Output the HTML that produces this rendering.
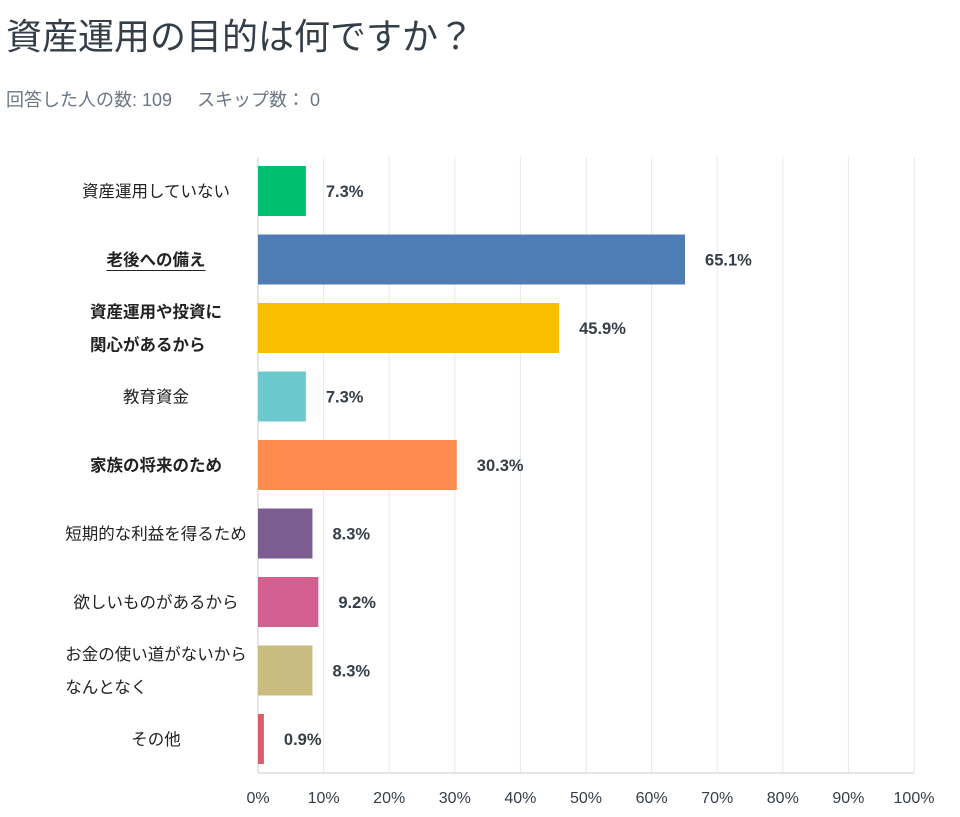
<!DOCTYPE html>
<html><head><meta charset="utf-8"><style>
body{margin:0;width:960px;height:817px;background:#fff;font-family:"Liberation Sans","Noto Sans CJK JP",sans-serif;position:relative;overflow:hidden}
#title{position:absolute;left:6px;top:8px;font-size:36px;color:#333e48;white-space:nowrap}
#sub{position:absolute;left:6px;top:86px;font-size:18px;color:#6b7785;white-space:nowrap}
svg text{font-family:"Liberation Sans","Noto Sans CJK JP",sans-serif}
</style></head><body>
<div id="title">資産運用の目的は何ですか？</div>
<div id="sub">回答した人の数: 109 &nbsp;&nbsp;&nbsp;&nbsp;スキップ数： 0</div>
<svg id="chart" width="960" height="817" style="position:absolute;left:0;top:0"></svg>
<script>
const categories=[["資産運用していない"],["老後への備え"],["資産運用や投資に","関心があるから"],["教育資金"],["家族の将来のため"],["短期的な利益を得るため"],["欲しいものがあるから"],["お金の使い道がないから","なんとなく"],["その他"]];
const values=[7.3,65.1,45.9,7.3,30.3,8.3,9.2,8.3,0.9];
const colors=["#00bf6f","#507cb6","#f9be00","#6bc8cd","#ff8b4f","#7d5c91","#d25f90","#c9bc7e","#e05b6a"];
const boldLabels=[false,true,true,false,true,false,false,false,false];
const ticks=[0,10,20,30,40,50,60,70,80,90,100];
const svg=document.getElementById('chart');
const NS='http://www.w3.org/2000/svg';
const x0=258,x1=914,yTop=157,yBot=773,rowH=68.5,barH=50;
const xs=v=>x0+(x1-x0)*v/100;
const yc=i=>191+i*rowH;
function mk(t,a){const e=document.createElementNS(NS,t);for(const k in a)e.setAttribute(k,a[k]);svg.appendChild(e);return e;}
ticks.forEach(t=>{
 const g=mk('line',{x1:xs(t),x2:xs(t),y1:yTop,y2:yBot,stroke:t===0?'#c8ccd0':'#e6e8ea','stroke-width':1});
 
 
 const l=mk('text',{x:xs(t),y:803,'text-anchor':'middle','font-size':16,fill:'#333e48'});
 l.textContent=t+'%';
 
 
});
const ax=mk('line',{x1:x0,x2:x1,y1:yBot,y2:yBot,stroke:'#c8ccd0','stroke-width':1});


values.forEach((v,i)=>{
 const r=mk('rect',{x:x0,y:yc(i)-barH/2,width:xs(v)-x0,height:barH,fill:colors[i]});
 
 
 const t=mk('text',{x:xs(v)+20,y:yc(i)+6,'font-size':16.5,'font-weight':'bold',fill:'#333e48'});
 t.textContent=v.toFixed(1)+'%';
 
 
 const lines=categories[i];
 const t2=mk('text',{'font-size':16.5,fill:'#222','font-weight':boldLabels[i]?'bold':'normal'});
 
 
 const n=lines.length;
 let w=0;
 lines.forEach((s,j)=>{const sp=document.createElementNS(NS,'tspan');sp.textContent=s;sp.setAttribute('x',0);sp.setAttribute('y',yc(i)+6+(j-(n-1)/2)*33);t2.appendChild(sp);w=Math.max(w,sp.getComputedTextLength());});
 [...t2.childNodes].forEach(sp=>sp.setAttribute('x',156-w/2));
 if(i===1){const u=mk('line',{x1:156-w/2,x2:156+w/2,y1:yc(i)+11,y2:yc(i)+11,stroke:'#222','stroke-width':1});}
});
</script>
</body></html>
